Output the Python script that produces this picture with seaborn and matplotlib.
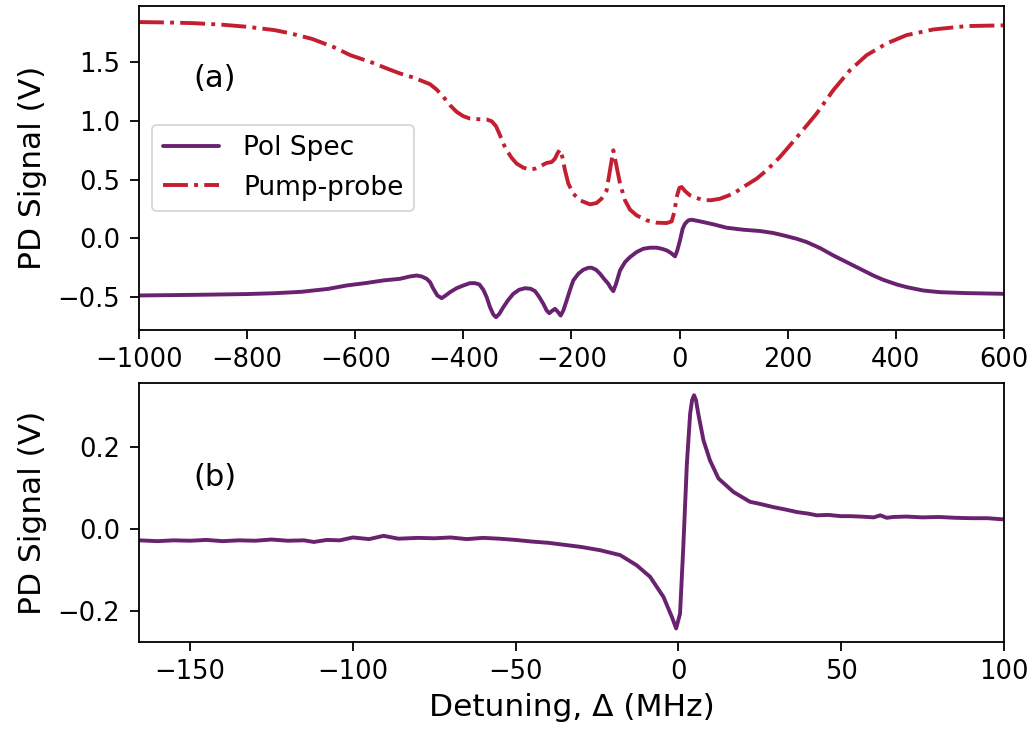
import matplotlib
matplotlib.use("Agg")
import matplotlib.pyplot as plt
import seaborn as sns

# ---------------- data ----------------
# Panel (a): Pol Spec
pol_x = [-1000, -900, -800, -750, -700, -650, -616, -580, -548, -517.2, -498.7, -486.4,
         -477.1, -467.9, -461.7, -455.5, -448.1, -440.1, -432.7, -424.7, -412.4, -400.0,
         -387.7, -378.5, -370.4, -363.0, -356.9, -350.7, -344.6, -339.6, -333.5, -326.1,
         -316.8, -307.6, -297.1, -286.0, -275.5, -267.5, -259.5, -252.1, -245.9, -241.0,
         -236.6, -230.5, -226.2, -220.0, -215.1, -208.9, -202.7, -196.6, -187.3, -178.1,
         -168.8, -162.7, -154.6, -147.2, -139.8, -131.8, -127.5, -122.6, -117.6, -110.2,
         -101.0, -91.7, -79.4, -67.1, -54.7, -42.4, -33.2, -23.9, -16.5, -8.5, -4.2, 0.7,
         5.7, 10.0, 16.2, 22.3, 31.6, 43.9, 62.4, 87.0, 117.9, 148.7, 173.4, 191.9,
         216.5, 235.0, 259.7, 284.3, 309.0, 333.7, 358.3, 376.8, 401.5, 420.0, 450.8,
         481.7, 531.0, 600]
pol_y = [-0.486, -0.481, -0.474, -0.467, -0.455, -0.430, -0.401, -0.380, -0.358, -0.344,
         -0.324, -0.316, -0.324, -0.344, -0.372, -0.429, -0.486, -0.509, -0.486, -0.458,
         -0.424, -0.401, -0.381, -0.381, -0.392, -0.438, -0.500, -0.586, -0.648, -0.671,
         -0.643, -0.586, -0.523, -0.472, -0.438, -0.424, -0.429, -0.449, -0.500, -0.557,
         -0.614, -0.637, -0.620, -0.600, -0.620, -0.657, -0.614, -0.529, -0.438, -0.358,
         -0.301, -0.267, -0.250, -0.250, -0.267, -0.301, -0.344, -0.387, -0.421, -0.449,
         -0.387, -0.273, -0.202, -0.159, -0.116, -0.088, -0.079, -0.079, -0.088, -0.102,
         -0.122, -0.153, -0.102, -0.017, 0.083, 0.125, 0.154, 0.159, 0.151, 0.139, 0.120,
         0.091, 0.074, 0.063, 0.046, 0.026, -0.003, -0.031, -0.082, -0.145, -0.202,
         -0.259, -0.316, -0.353, -0.392, -0.415, -0.444, -0.458, -0.466, -0.472]

# Panel (a): Pump-probe
pp_x = [-1000, -950, -900, -850, -800, -750, -720, -680, -640, -609, -570, -540, -517.2,
        -492.5, -461.7, -449.4, -437.0, -424.7, -412.4, -400.0, -387.7, -369.2, -356.9,
        -347.6, -339.6, -332.2, -326.1, -319.9, -310.6, -301.4, -289.1, -276.7, -267.5,
        -258.2, -245.9, -236.6, -230.5, -226.2, -221.2, -216.9, -212.0, -205.8, -196.6,
        -184.2, -165.7, -153.4, -144.2, -134.9, -128.8, -122.6, -116.4, -110.2, -101.0,
        -91.7, -79.4, -60.9, -42.4, -23.9, -14.7, -9.7, -5.4, -0.5, 3.8, 10.0, 19.2,
        31.6, 43.9, 58.0, 74.7, 99.4, 117.9, 142.5, 161.0, 185.7, 204.2, 222.7, 253.5,
        284.3, 315.2, 346.0, 383.0, 420.0, 469.3, 531.0, 600]
pp_y = [1.843, 1.840, 1.834, 1.822, 1.803, 1.775, 1.747, 1.700, 1.630, 1.561, 1.500,
        1.445, 1.405, 1.371, 1.314, 1.268, 1.206, 1.135, 1.078, 1.041, 1.021, 1.015,
        1.013, 0.998, 0.956, 0.879, 0.808, 0.751, 0.686, 0.637, 0.603, 0.586, 0.594,
        0.614, 0.643, 0.651, 0.680, 0.722, 0.757, 0.694, 0.580, 0.467, 0.381, 0.324,
        0.290, 0.302, 0.339, 0.410, 0.580, 0.751, 0.609, 0.467, 0.324, 0.245, 0.196,
        0.154, 0.134, 0.131, 0.145, 0.225, 0.353, 0.430, 0.438, 0.404, 0.367, 0.344,
        0.327, 0.325, 0.338, 0.381, 0.438, 0.509, 0.580, 0.694, 0.793, 0.893, 1.064,
        1.263, 1.433, 1.561, 1.661, 1.732, 1.780, 1.809, 1.815]

# Panel (b): Pol Spec zoom
b_x = [-165.7, -160, -155, -150, -145, -140, -135, -130, -125, -120, -115, -112, -108,
       -104, -100, -95, -90.6, -86, -80, -75, -70, -65, -60, -55, -50, -45, -40, -35,
       -30, -24.1, -17.9, -12.8, -8.7, -4.6, -2.0, -0.7, 0.5, 1.5, 2.6, 3.6, 4.2, 4.8,
       5.4, 6.1, 7.7, 9.7, 12.3, 16.9, 22, 25, 29.2, 33, 36.4, 40, 42.5, 46, 50, 52.8,
       56, 60, 62, 64, 66, 70, 75, 80, 85, 90, 95, 100]
b_y = [-0.027, -0.029, -0.027, -0.028, -0.026, -0.029, -0.027, -0.028, -0.025, -0.028,
       -0.027, -0.031, -0.026, -0.027, -0.020, -0.024, -0.016, -0.023, -0.021, -0.022,
       -0.020, -0.024, -0.021, -0.023, -0.026, -0.030, -0.033, -0.038, -0.043, -0.051,
       -0.063, -0.088, -0.116, -0.165, -0.214, -0.242, -0.206, -0.043, 0.160, 0.282,
       0.315, 0.327, 0.315, 0.282, 0.217, 0.168, 0.124, 0.091, 0.067, 0.062, 0.054,
       0.048, 0.042, 0.038, 0.034, 0.035, 0.032, 0.032, 0.031, 0.029, 0.034, 0.028,
       0.030, 0.031, 0.029, 0.030, 0.028, 0.027, 0.027, 0.024]

labels = ["Pol Spec", "Pump-probe"]
PURPLE = "#68226f"
RED = "#c41f30"

# ---------------- style ----------------
sns.set_style("ticks")
plt.rcParams.update({
    "font.family": ["DejaVu Sans"],
    "font.size": 18.5,
    "axes.labelsize": 22.5,
    "xtick.labelsize": 18.5,
    "ytick.labelsize": 18.5,
    "legend.fontsize": 19,
    "axes.linewidth": 1.3,
    "xtick.major.width": 1.3,
    "ytick.major.width": 1.3,
    "xtick.major.size": 6.5,
    "ytick.major.size": 6.5,
    "xtick.major.pad": 5.5,
    "ytick.major.pad": 7.0,
    "xtick.direction": "out",
    "ytick.direction": "out",
    "axes.edgecolor": "black",
    "xtick.color": "black",
    "ytick.color": "black",
    "axes.labelcolor": "black",
    "text.color": "black",
})

fig = plt.figure(figsize=(10.35, 7.31), dpi=100)
ax1 = fig.add_axes([0.1343, 0.5486, 0.8357, 0.4432])
ax2 = fig.add_axes([0.1343, 0.1218, 0.8357, 0.3543])

lw = 2.8
sns.lineplot(x=pol_x, y=pol_y, ax=ax1, color=PURPLE, lw=lw, label=labels[0], sort=False)
sns.lineplot(x=pp_x, y=pp_y, ax=ax1, color=RED, lw=lw, linestyle="-.", label=labels[1], sort=False)
ax1.set_xlim(-1000, 600)
ax1.set_ylim(-0.78, 1.98)
ax1.set_yticks([-0.5, 0.0, 0.5, 1.0, 1.5])
ax1.set_ylabel("PD Signal (V)", labelpad=8)
ax1.set_xlabel("")
leg = ax1.legend(loc="center left", handlelength=2.15, handletextpad=0.9,
                 frameon=True, fancybox=True)
leg.get_frame().set_edgecolor("0.8")
leg.get_frame().set_linewidth(1.3)
ax1.text(-900, 1.36, "(a)", va="center", ha="left", fontsize=22)

sns.lineplot(x=b_x, y=b_y, ax=ax2, color=PURPLE, lw=lw, sort=False)
ax2.set_xlim(-165.7, 100)
ax2.set_ylim(-0.275, 0.357)
ax2.set_yticks([-0.2, 0.0, 0.2])
ax2.set_xlabel("Detuning, Δ (MHz)", labelpad=6)
ax2.set_ylabel("PD Signal (V)", labelpad=8)
ax2.text(-149, 0.127, "(b)", va="center", ha="left", fontsize=22)

for ax in (ax1, ax2):
    for s in ax.spines.values():
        s.set_visible(True)
        s.set_linewidth(1.3)

fig.savefig("out.png", dpi=100)
